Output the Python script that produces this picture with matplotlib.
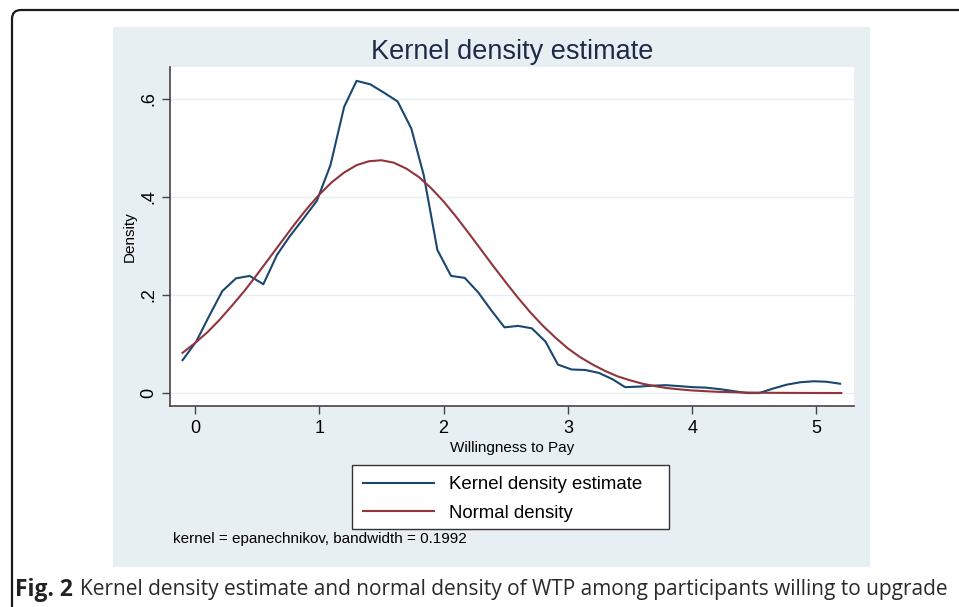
import matplotlib
matplotlib.use("Agg")
import matplotlib.pyplot as plt
from matplotlib.patches import FancyBboxPatch, Rectangle

plt.rcParams["font.family"] = ["Liberation Sans", "DejaVu Sans"]

# kernel density estimate
kde_x = [-0.10, 0.01, 0.12, 0.22, 0.33, 0.44, 0.55, 0.66, 0.76, 0.87,
         0.98, 1.09, 1.20, 1.30, 1.41, 1.52, 1.63, 1.74, 1.84, 1.95,
         2.06, 2.17, 2.28, 2.38, 2.49, 2.60, 2.71, 2.82, 2.92, 3.03,
         3.14, 3.25, 3.36, 3.46, 3.57, 3.68, 3.79, 3.90, 4.00, 4.11,
         4.22, 4.33, 4.44, 4.54, 4.65, 4.76, 4.87, 4.98, 5.08, 5.19]
kde_y = [0.067, 0.105, 0.160, 0.208, 0.234, 0.239, 0.222, 0.282, 0.319, 0.355,
         0.392, 0.465, 0.584, 0.637, 0.630, 0.613, 0.595, 0.540, 0.445, 0.292,
         0.239, 0.235, 0.205, 0.170, 0.134, 0.137, 0.132, 0.105, 0.058, 0.048,
         0.047, 0.041, 0.028, 0.012, 0.013, 0.015, 0.016, 0.014, 0.012, 0.011,
         0.008, 0.004, 0.000, 0.000, 0.009, 0.017, 0.022, 0.024, 0.023, 0.019]

# normal density
norm_x = [-0.1, 0.0, 0.1, 0.2, 0.3, 0.4, 0.5, 0.6, 0.7, 0.8, 0.9, 1.0,
          1.1, 1.2, 1.3, 1.4, 1.5, 1.6, 1.7, 1.8, 1.9, 2.0, 2.1, 2.2,
          2.3, 2.4, 2.5, 2.6, 2.7, 2.8, 2.9, 3.0, 3.1, 3.2, 3.3, 3.4,
          3.5, 3.6, 3.7, 3.8, 3.9, 4.0, 4.2, 4.4, 4.6, 4.8, 5.0, 5.2]
norm_y = [0.082, 0.102, 0.124, 0.150, 0.179, 0.209, 0.242, 0.276, 0.310, 0.344,
          0.376, 0.405, 0.430, 0.450, 0.465, 0.473, 0.475, 0.470, 0.458, 0.441,
          0.418, 0.391, 0.360, 0.327, 0.293, 0.259, 0.226, 0.194, 0.164, 0.137,
          0.113, 0.091, 0.073, 0.058, 0.045, 0.034, 0.026, 0.019, 0.014, 0.010,
          0.0074, 0.0052, 0.0025, 0.0011, 0.0005, 0.0002, 0.0001, 0.0]

y_ticks = [0, 0.2, 0.4, 0.6]
y_ticklabels = ["0", ".2", ".4", ".6"]
x_ticks = [0, 1, 2, 3, 4, 5]

W, H = 959, 607
fig = plt.figure(figsize=(W / 100, H / 100), dpi=100)
fig.patch.set_facecolor("white")

# background layer in pixel coords
bg = fig.add_axes([0, 0, 1, 1], zorder=0)
bg.set_xlim(0, W)
bg.set_ylim(H, 0)
bg.axis("off")
bg.add_patch(FancyBboxPatch((12, 10), 1000, 700,
                            boxstyle="round,pad=0,rounding_size=9",
                            fc="white", ec="#1a1a1a", lw=1.6))
bg.add_patch(Rectangle((113, 27), 757, 540, fc="#e8eff2", ec="none"))
# legend frame
bg.add_patch(Rectangle((352, 465), 317, 64, fc="white", ec="#333333", lw=1.0))

# caption
fig.canvas.draw()
r = fig.canvas.get_renderer()
cap1 = bg.text(15, 590, "Fig. 2", fontsize=16.5, fontweight="bold",
               family=["Open Sans", "DejaVu Sans"], color="#222222", va="center")
bb = cap1.get_window_extent(renderer=r)
bg.text(bb.x1 + 7, 590,
        "Kernel density estimate and normal density of WTP among participants willing to upgrade",
        fontsize=15, family=["Open Sans", "DejaVu Sans"], color="#2a2a2a", va="center")

# main plot
ax = fig.add_axes([170 / W, 1 - 406 / H, (854 - 170) / W, (406 - 67) / H], zorder=2)
ax.set_facecolor("white")
ax.plot(kde_x, kde_y, color="#1a476f", lw=1.5, label="Kernel density estimate")
ax.plot(norm_x, norm_y, color="#90353b", lw=1.5, label="Normal density")

ax.set_xlim(-0.201, 5.302)
ax.set_ylim(-0.0265, 0.6653)
ax.set_yticks(y_ticks)
ax.set_yticklabels(y_ticklabels, rotation=90, va="center")
ax.set_xticks(x_ticks)
ax.tick_params(axis="both", labelsize=13, length=6, width=1, color="#444444")
ax.tick_params(axis="y", pad=3)
ax.tick_params(axis="x", pad=4)
ax.grid(axis="y", color="#e6eef1", lw=1)
ax.set_axisbelow(True)
for s in ["top", "right"]:
    ax.spines[s].set_visible(False)
for s in ["left", "bottom"]:
    ax.spines[s].set_color("#444444")
    ax.spines[s].set_linewidth(1.2)

ax.set_xlabel("Willingness to Pay", fontsize=11, labelpad=3)
ax.set_ylabel("Density", fontsize=11, labelpad=3)
ax.set_title("Kernel density estimate", fontsize=19.5, color="#1f2a48", pad=6)

leg = ax.legend(loc="upper left", bbox_to_anchor=(352 / W, 1 - 465 / H),
                bbox_transform=fig.transFigure, fontsize=13.4, frameon=False,
                handlelength=3.8, handletextpad=0.8, labelspacing=0.62,
                borderpad=0.6, borderaxespad=0)

bg.text(173, 539, "kernel = epanechnikov, bandwidth = 0.1992", fontsize=11,
        va="center", ha="left")

fig.savefig("out.png", dpi=100)
